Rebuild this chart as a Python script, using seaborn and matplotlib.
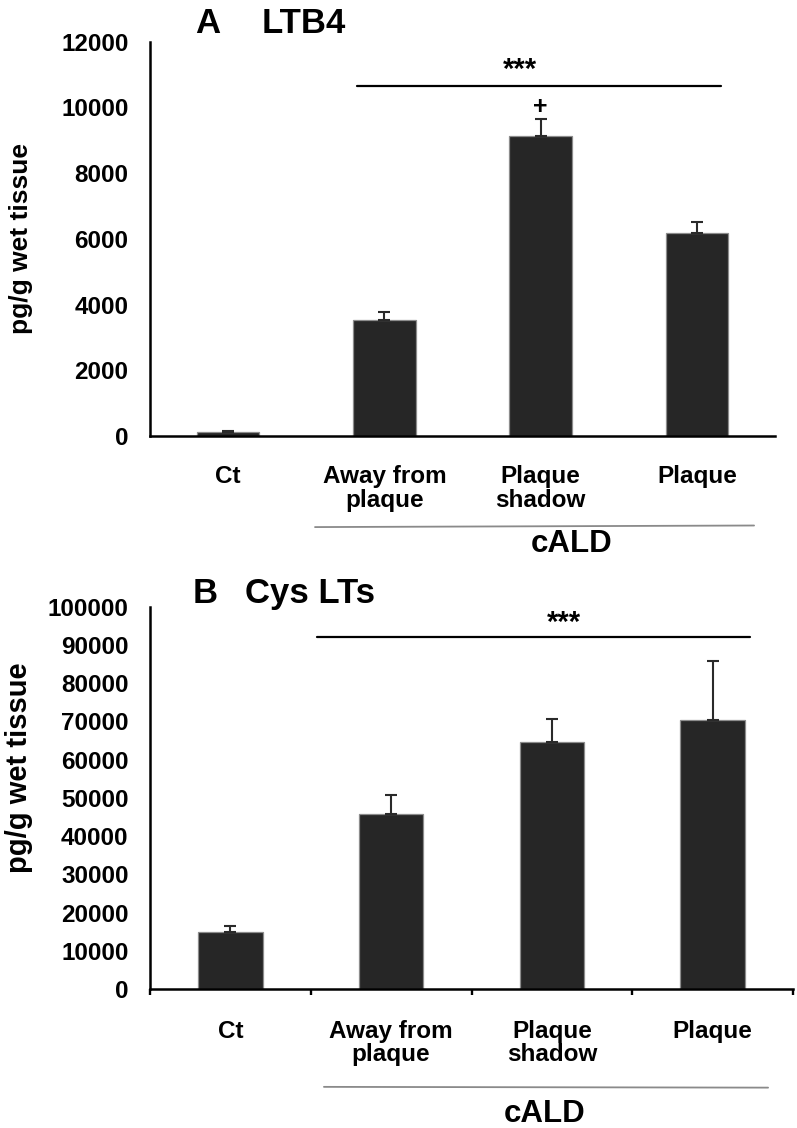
import numpy as np
import pandas as pd
import matplotlib
matplotlib.use("Agg")
import matplotlib.pyplot as plt
import seaborn as sns
from matplotlib.ticker import FixedLocator

# ---------------- data ----------------
categories = ["Ct", "Away from\nplaque", "Plaque\nshadow", "Plaque"]
ltb4_values = [130, 3530, 9130, 6170]
ltb4_errors = [20, 250, 520, 350]
cys_values = [14850, 45700, 64500, 70300]
cys_errors = [1700, 5050, 6200, 15500]
ltb4_yticks = [0, 2000, 4000, 6000, 8000, 10000, 12000]
cys_yticks = [0, 10000, 20000, 30000, 40000, 50000, 60000, 70000, 80000, 90000, 100000]
ylabel = "pg/g wet tissue"
group_label = "cALD"

sns.set_theme(style="white")
plt.rcParams["font.family"] = ["Liberation Sans", "DejaVu Sans"]
plt.rcParams["font.weight"] = "bold"
for k in ["text.color", "axes.labelcolor", "xtick.color", "ytick.color"]:
    plt.rcParams[k] = "black"

W, H = 797, 1128
fig = plt.figure(figsize=(W / 100, H / 100), dpi=100)
fig.patch.set_facecolor("white")

BAR = "#262626"
EDGE = "#8c8c8c"
TICK_FS = 17.5


def make_panel(ax, values, errors, yticks, ymax, xminor):
    df = pd.DataFrame({"cat": categories, "val": values})
    sns.barplot(data=df, x="cat", y="val", color=BAR, saturation=1, width=0.4,
                edgecolor=EDGE, linewidth=0.9, errorbar=None, ax=ax)
    ax.errorbar(np.arange(len(categories)), values,
                yerr=[np.zeros(len(errors)), errors], fmt="none",
                ecolor="#2a2a2a", elinewidth=1.5, capsize=4.5, capthick=1.5, zorder=1)
    ax.set_xlim(-0.5, len(categories) - 0.5)
    ax.set_ylim(0, ymax)
    ax.set_yticks(yticks)
    ax.set_yticklabels([str(t) for t in yticks])
    for s in ["top", "right"]:
        ax.spines[s].set_visible(False)
    for s in ["left", "bottom"]:
        ax.spines[s].set_color("black")
        ax.spines[s].set_linewidth(1.8)
    ax.set_xlabel("")
    ax.tick_params(axis="y", direction="out", length=4.5, width=1.7, pad=11,
                   labelsize=TICK_FS, colors="black")
    ax.tick_params(axis="x", which="major", length=0, labelsize=TICK_FS, colors="black")
    for lab in ax.get_xticklabels() + ax.get_yticklabels():
        lab.set_fontweight("bold")
        lab.set_color("black")
        lab.set_linespacing(1.05)
    if xminor:
        ax.xaxis.set_minor_locator(FixedLocator([-0.5, 0.5, 1.5, 2.5, 3.5]))
        ax.tick_params(axis="x", which="minor", bottom=True, direction="out",
                       length=4.5, width=1.7, color="black")
    ax.set_facecolor("white")


# ---------------- Panel A ----------------
axA = fig.add_axes([150 / W, 1 - 436 / H, 625 / W, 394.3 / H])
make_panel(axA, ltb4_values, ltb4_errors, ltb4_yticks, 12000, False)
axA.tick_params(axis="x", pad=21)
axA.set_ylabel(ylabel, fontsize=19, fontweight="bold", color="black")
axA.yaxis.set_label_coords(-0.187, 0.5)
axA.plot([0.825, 3.154], [10660, 10660], color="black", lw=1.6, clip_on=False)
axA.text(1.868, 10900, "***", ha="center", va="baseline", fontsize=21, fontweight="bold")
axA.text(2.0, 9800, "+", ha="center", va="baseline", fontsize=18, fontweight="bold")
transA = axA.get_xaxis_transform()
axA.plot([0.556, 3.366], [-0.231, -0.227], color="#8a8a8a", lw=1.3,
         transform=transA, clip_on=False)
axA.text(2.2, -0.294, group_label, transform=transA, ha="center", va="baseline",
         fontsize=22.5, fontweight="bold")

# ---------------- Panel B ----------------
axB = fig.add_axes([150 / W, 1 - 989 / H, 643 / W, 382.3 / H])
make_panel(axB, cys_values, cys_errors, cys_yticks, 100000, True)
axB.tick_params(axis="x", which="major", pad=22)
axB.set_ylabel(ylabel, fontsize=21, fontweight="bold", color="black")
axB.yaxis.set_label_coords(-0.182, 0.578)
axB.plot([0.539, 3.233], [92070, 92070], color="black", lw=1.6, clip_on=False)
axB.text(2.075, 93700, "***", ha="center", va="baseline", fontsize=21, fontweight="bold")
transB = axB.get_xaxis_transform()
axB.plot([0.582, 3.345], [-0.256, -0.258], color="#8a8a8a", lw=1.3,
         transform=transB, clip_on=False)
axB.text(1.957, -0.347, group_label, transform=transB, ha="center", va="baseline",
         fontsize=22.5, fontweight="bold")

# ---------------- Panel titles ----------------
fig.text(195 / W, 1 - 33 / H, "A", ha="left", va="baseline", fontsize=25, fontweight="bold")
fig.text(262 / W, 1 - 33 / H, "LTB4", ha="left", va="baseline", fontsize=25, fontweight="bold")
fig.text(193 / W, 1 - 603 / H, "B", ha="left", va="baseline", fontsize=25, fontweight="bold")
fig.text(245 / W, 1 - 603 / H, "Cys LTs", ha="left", va="baseline", fontsize=25, fontweight="bold")

fig.savefig("out.png", dpi=100, facecolor="white")
